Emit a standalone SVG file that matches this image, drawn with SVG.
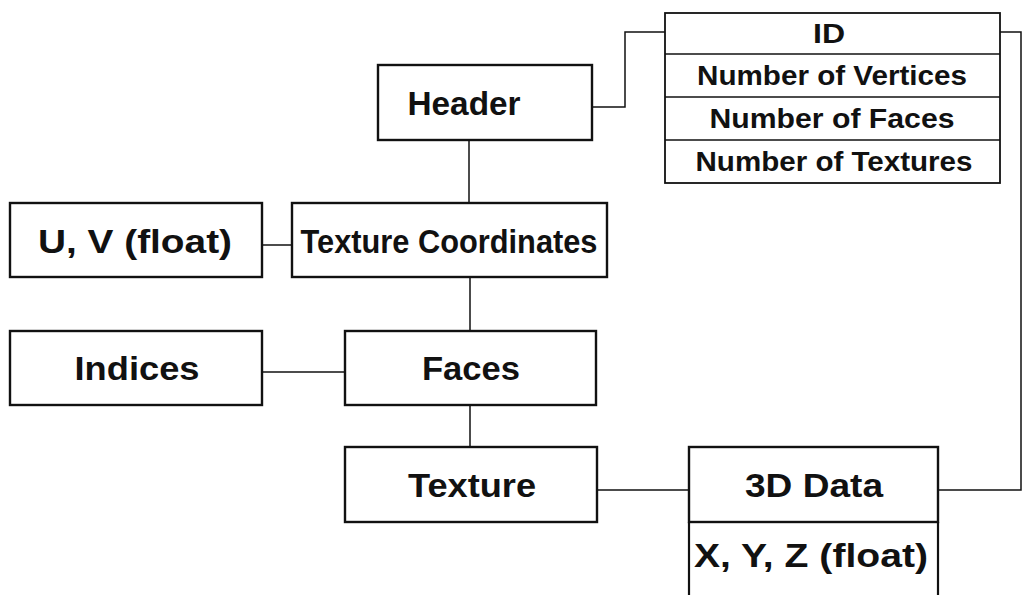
<svg xmlns="http://www.w3.org/2000/svg" width="1022" height="595" viewBox="0 0 1022 595">
<style>
.box{fill:#fff;stroke:#111;stroke-width:2.4}
.cell{fill:#fff;stroke:#111;stroke-width:1.8}
.ln{fill:none;stroke:#111;stroke-width:1.5}
.side{fill:none;stroke:#111;stroke-width:2.2}
.t{font-family:"Liberation Sans",Arial,sans-serif;font-weight:bold;fill:#111;text-anchor:middle}
.big{font-size:34px}
.sm{font-size:27px}
</style>
<rect width="1022" height="595" fill="#fff"/>
<g id="connectors">
<polyline class="ln" points="592,107 625,107 625,32 665,32"/>
<polyline class="ln" points="1000,32 1021,32 1021,490 938,490"/>
<line class="ln" x1="469" y1="140" x2="469" y2="203"/>
<line class="ln" x1="262" y1="245" x2="292" y2="245"/>
<line class="ln" x1="470" y1="277" x2="470" y2="331"/>
<line class="ln" x1="262" y1="372" x2="345" y2="372"/>
<line class="ln" x1="470" y1="405" x2="470" y2="447"/>
<line class="ln" x1="597" y1="490" x2="689" y2="490"/>
</g>
<g id="header-fields">
<rect class="cell" x="665" y="13" width="335" height="170"/>
<line class="ln" x1="665" y1="54" x2="1000" y2="54"/>
<line class="ln" x1="665" y1="97" x2="1000" y2="97"/>
<line class="ln" x1="665" y1="140" x2="1000" y2="140"/>
<text class="t sm" x="829" y="43" textLength="32" lengthAdjust="spacingAndGlyphs">ID</text>
<text class="t sm" x="832" y="85" textLength="270" lengthAdjust="spacingAndGlyphs">Number of Vertices</text>
<text class="t sm" x="832" y="128" textLength="245" lengthAdjust="spacingAndGlyphs">Number of Faces</text>
<text class="t sm" x="834" y="171" textLength="277" lengthAdjust="spacingAndGlyphs">Number of Textures</text>
</g>
<g id="header">
<rect class="box" x="378" y="65" width="214" height="75"/>
<text class="t big" x="464" y="115" textLength="113" lengthAdjust="spacingAndGlyphs">Header</text>
</g>
<g id="uv">
<rect class="box" x="10" y="203" width="252" height="74"/>
<text class="t big" x="135" y="253" textLength="194" lengthAdjust="spacingAndGlyphs">U, V (float)</text>
</g>
<g id="texture-coordinates">
<rect class="box" x="292" y="203" width="315" height="74"/>
<text class="t big" x="449" y="253" textLength="297" lengthAdjust="spacingAndGlyphs">Texture Coordinates</text>
</g>
<g id="indices">
<rect class="box" x="10" y="331" width="252" height="74"/>
<text class="t big" x="137" y="380" textLength="125" lengthAdjust="spacingAndGlyphs">Indices</text>
</g>
<g id="faces">
<rect class="box" x="345" y="331" width="251" height="74"/>
<text class="t big" x="471" y="380" textLength="98" lengthAdjust="spacingAndGlyphs">Faces</text>
</g>
<g id="texture">
<rect class="box" x="345" y="447" width="252" height="75"/>
<text class="t big" x="472" y="497" textLength="128" lengthAdjust="spacingAndGlyphs">Texture</text>
</g>
<g id="data3d">
<rect class="box" x="689" y="447" width="249" height="75"/>
<text class="t big" x="814" y="497" textLength="138" lengthAdjust="spacingAndGlyphs">3D Data</text>
<line class="side" x1="689" y1="522" x2="689" y2="596"/>
<line class="side" x1="938" y1="522" x2="938" y2="596"/>
<text class="t big" x="811" y="567" textLength="234" lengthAdjust="spacingAndGlyphs">X, Y, Z (float)</text>
</g>
</svg>
